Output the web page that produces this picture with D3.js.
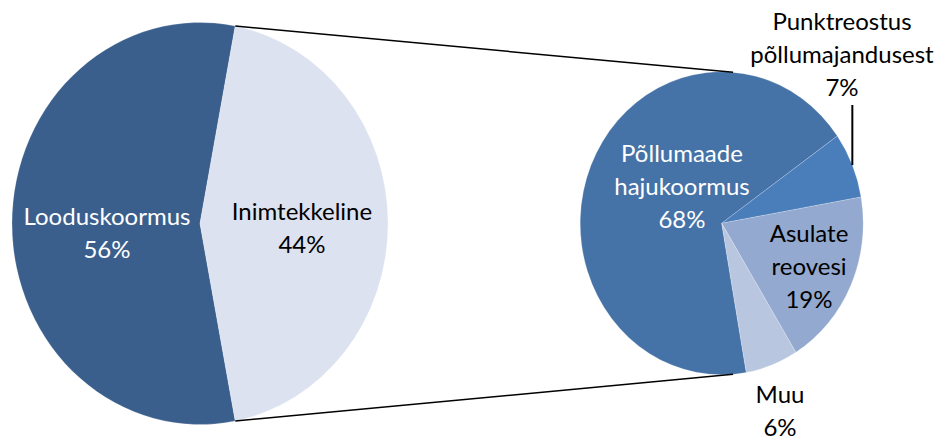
<!DOCTYPE html>
<html>
<head>
<meta charset="utf-8">
<script src="https://cdn.jsdelivr.net/npm/d3@7"></script>
<style>
  body { margin: 0; background: #fff; }
  text { font-family: Lato, "Open Sans", sans-serif; font-size: 24px; }
</style>
</head>
<body>
<svg width="937" height="442"></svg>
<script>
// main pie data
var mainLabels = ['Looduskoormus', 'Inimtekkeline'];
var mainValues = [56, 44];
var mainColors = ['#3b5f8d', '#dce2ef'];
var mainText = ['#ffffff', '#000000'];

// secondary pie (breakdown of Inimtekkeline)
var subLabels = [['Põllumaade', 'hajukoormus'], ['Punktreostus', 'põllumajandusest'], ['Asulate', 'reovesi'], ['Muu']];
var subValues = [68, 7, 19, 6];
var subColors = ['#4673a7', '#4a7ebb', '#93a9cf', '#b9c6e0'];
var subText = ['#ffffff', '#000000', '#000000', '#000000'];

var svg = d3.select('svg');

// layout parameters
var main = {cx: 200, cy: 223.5, rx: 188, ry: 201};
var sub = {cx: 721.7, cy: 223.3, rx: 141.5, ry: 151.5};
var deg = Math.PI / 180;

// point on an ellipse at clockwise angle from 12 o'clock
function pointAt(e, a) {
    return [e.cx + e.rx * Math.sin(a), e.cy - e.ry * Math.cos(a)];
}

function drawPie(e, values, colors, start) {
    var pie = d3.pie().sort(null)
        .startAngle(start)
        .endAngle(start + 2 * Math.PI);
    var arcs = pie(values);
    var arc = d3.arc().innerRadius(0).outerRadius(e.ry);
    var g = svg.append('g')
        .attr('transform', 'translate(' + [e.cx, e.cy] + ') scale(' + (e.rx / e.ry) + ',1)');
    g.selectAll('path')
        .data(arcs)
        .enter()
        .append('path')
        .attr('d', arc)
        .attr('fill', function(d, i) { return colors[i]; })
        .attr('stroke', '#ffffff')
        .attr('stroke-opacity', 0.35)
        .attr('stroke-width', 0.6);
    return arcs;
}

var mainArcs = drawPie(main, mainValues, mainColors, 169.2 * deg);
var subArcs = drawPie(sub, subValues, subColors, 170 * deg);

// connector lines between the two pies
var inim = mainArcs[1];
var p1 = pointAt(main, inim.startAngle);
var p2 = pointAt(main, inim.endAngle);
var q1 = pointAt(sub, 4.6 * deg);
var q2 = pointAt(sub, 175.4 * deg);
svg.append('line')
    .attr('x1', p1[0]).attr('y1', p1[1]).attr('x2', q1[0]).attr('y2', q1[1])
    .attr('stroke', '#000').attr('stroke-width', 1.5);
svg.append('line')
    .attr('x1', p2[0]).attr('y1', p2[1]).attr('x2', q2[0]).attr('y2', q2[1])
    .attr('stroke', '#000').attr('stroke-width', 1.5);

// leader line for the small slice
var punkt = subArcs[1];
var lp = pointAt(sub, (punkt.startAngle + punkt.endAngle) / 2);
svg.append('line')
    .attr('x1', lp[0]).attr('y1', lp[1]).attr('x2', lp[0]).attr('y2', 105)
    .attr('stroke', '#000').attr('stroke-width', 2);

// label helper: lines of text + percentage
function label(x, y, lines, value, color) {
    var t = svg.append('text')
        .attr('text-anchor', 'middle')
        .attr('fill', color);
    lines.concat([value + '%']).forEach(function(s, i) {
        t.append('tspan')
            .attr('x', x)
            .attr('y', y + i * 33)
            .text(s);
    });
}

var mainPos = [[107, 225], [302, 220]];
mainLabels.forEach(function(l, i) {
    label(mainPos[i][0], mainPos[i][1], [l], mainValues[i], mainText[i]);
});

var subPos = [[682, 161.5], [842, 30], [809, 241.5], [780, 403]];
subLabels.forEach(function(l, i) {
    label(subPos[i][0], subPos[i][1], l, subValues[i], subText[i]);
});
</script>
</body>
</html>
